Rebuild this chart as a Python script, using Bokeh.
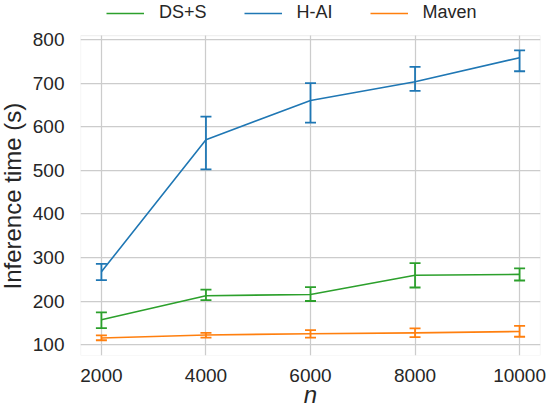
from bokeh.plotting import figure
from bokeh.models import (ColumnDataSource, Whisker, TeeHead, Legend, LegendItem,
                          FixedTicker, Range1d, BoxAnnotation, Title)
from bokeh.embed import file_html
from bokeh.resources import INLINE

n_values = [2000, 4000, 6000, 8000, 10000]

dss_mean = [157, 212, 215, 259, 261]
dss_low = [138, 202, 200, 231, 247]
dss_high = [174, 226, 232, 287, 275]

hai_mean = [267, 570, 660, 703, 758]
hai_low = [248, 502, 609, 682, 727]
hai_high = [285, 623, 700, 737, 775]

mav_mean = [115, 122, 125, 127, 130]
mav_low = [110, 116, 116, 117, 118]
mav_high = [121, 127, 133, 137, 143]

series_names = ["DS+S", "H-AI", "Maven"]
colors = ["#2ca02c", "#1f77b4", "#ff7f0e"]
y_ticks = [100, 200, 300, 400, 500, 600, 700, 800]
x_label = "n"
y_label = "Inference time (s)"

FONT = "Liberation Sans"
TXT = "#262626"
GRID = "#cccccc"

# axes box limits (data) and the extra headroom where the legend sits
X0, X1 = 1600, 10400
Y0, Y1 = 75, 809
Y_TOP = 889.3

p = figure(frame_width=460, frame_height=355, output_backend="svg",
           toolbar_location=None,
           x_range=Range1d(X0, X1), y_range=Range1d(Y0, Y_TOP),
           min_border_left=79, min_border_right=8, min_border_top=0,
           min_border_bottom=51, margin=(0, 0, 0, -8))
p.background_fill_color = "white"
p.border_fill_color = "white"
p.outline_line_color = None

# axes box
p.add_layout(BoxAnnotation(left=X0, right=X1, bottom=Y0, top=Y1,
                           fill_alpha=0, line_color=GRID, line_width=1.25))

series = [(dss_mean, dss_low, dss_high), (hai_mean, hai_low, hai_high),
          (mav_mean, mav_low, mav_high)]
items = []
for (m, lo, hi), name, c in zip(series, series_names, colors):
    src = ColumnDataSource(dict(x=n_values, y=m, lo=lo, hi=hi))
    r = p.line("x", "y", source=src, line_color=c, line_width=1.6)
    w = Whisker(base="x", lower="lo", upper="hi", source=src,
                line_color=c, line_width=1.8,
                upper_head=TeeHead(size=11, line_color=c, line_width=1.8),
                lower_head=TeeHead(size=11, line_color=c, line_width=1.8))
    p.add_layout(w)
    items.append(LegendItem(label=name, renderers=[r]))

legend = Legend(items=items, orientation="horizontal", location=(26, 332),
                glyph_width=38, glyph_height=20, label_height=20,
                label_standoff=15, spacing=37, padding=0, margin=0,
                border_line_color=None, background_fill_alpha=0,
                label_text_font=FONT, label_text_font_size="18px",
                label_text_color=TXT)
p.add_layout(legend, "center")

p.xaxis.ticker = FixedTicker(ticks=n_values)
p.yaxis.ticker = FixedTicker(ticks=y_ticks)
for ax in (p.xaxis, p.yaxis):
    ax.axis_line_color = None
    ax.major_tick_line_color = None
    ax.minor_tick_line_color = None
    ax.major_label_text_font = FONT
    ax.major_label_text_font_size = "19px"
    ax.major_label_text_color = TXT
p.xaxis.major_label_standoff = 7
p.yaxis.major_label_standoff = 10
p.xaxis.axis_label = x_label
p.xaxis.axis_label_text_font = FONT
p.xaxis.axis_label_text_font_size = "24px"
p.xaxis.axis_label_text_color = TXT
p.xaxis.axis_label_text_font_style = "italic"
p.xaxis.axis_label_standoff = -4

# y title placed in the left panel, starting 66px above the frame bottom
p.add_layout(Title(text=y_label, align="left", offset=66, standoff=8,
                   vertical_align="bottom", text_font=FONT,
                   text_font_size="24px", text_font_style="normal",
                   text_color=TXT), "left")

p.xgrid.grid_line_color = GRID
p.ygrid.grid_line_color = GRID
p.xgrid.grid_line_width = 1.25
p.ygrid.grid_line_width = 1.25
p.xgrid.cross_bounds = (Y0, Y1)

open("out.html", "w").write(file_html(p, INLINE))
